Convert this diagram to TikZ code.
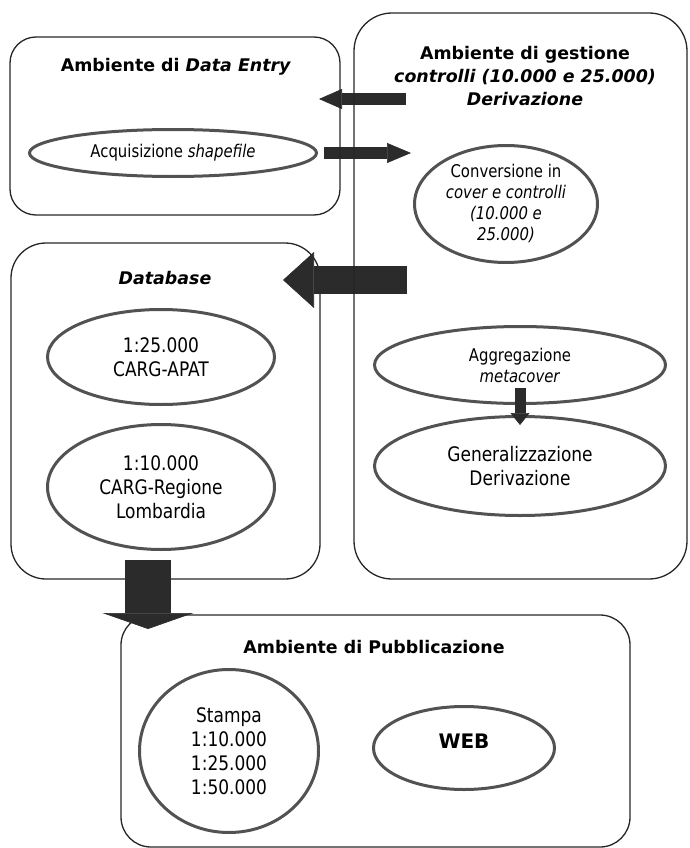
\documentclass[tikz,border=0pt]{standalone}
\usepackage{fontspec}
\setmainfont{DejaVu Sans}
\newfontfamily\narrowfont[FakeStretch=0.85]{DejaVu Sans}
\usetikzlibrary{shapes,arrows.meta}

\definecolor{arrowfill}{gray}{0.17}
\definecolor{ovalline}{gray}{0.32}

\tikzset{
  env/.style={draw=black!85, line width=1.3pt, rounded corners=#1, inner sep=0pt},
  env/.default=30pt,
  heading/.style={font=\fontsize{17.4}{23}\selectfont\bfseries, align=center},
  oval/.style={ellipse, draw=ovalline, line width=3pt, inner sep=0pt, align=center,
    font=\narrowfont\fontsize{20}{24}\selectfont},
  smalloval/.style={oval, font=\narrowfont\fontsize{17.5}{21}\selectfont},
  fat/.style n args={3}{draw=arrowfill, line width=#1,
    -{Triangle[width=#2, length=#3, line width=0.6pt, fill=arrowfill]}}
}

\begin{document}
\begin{tikzpicture}[x=1pt, y=-1pt]
    \useasboundingbox (0,0) rectangle (689,848);

    \node[heading] (entryT) at (176,67) {Ambiente di \textit{Data Entry}};
    \node[heading] (gestT) at (525,76) {Ambiente di gestione\\ \textit{controlli (10.000 e 25.000)}\\ \textit{Derivazione}};
    \node[heading] (dbT) at (165,278) {\textit{Database}};
    \node[heading] (pubT) at (374,647) {Ambiente di Pubblicazione};

    \node[smalloval, minimum width=287pt, minimum height=47pt] (acq) at (173,153) {Acquisizione \textit{shapefile}};
    \node[smalloval, minimum width=183pt, minimum height=117pt] (conv) at (506,204) {Conversione in\\ \textit{cover e controlli}\\ \textit{(10.000 e}\\ \textit{25.000)}};
    \node[smalloval, minimum width=291pt, minimum height=77pt] (agg) at (520,365) {Aggregazione\\ \textit{metacover}};
    \node[oval, minimum width=291pt, minimum height=99pt] (gen) at (520,466) {Generalizzazione\\ Derivazione};
    \node[oval, minimum width=227pt, minimum height=95pt] (apat) at (161,357) {1:25.000\\ CARG-APAT};
    \node[oval, minimum width=227pt, minimum height=125pt] (lomb) at (161,487) {1:10.000\\ CARG-Regione\\ Lombardia};
    \node[oval, minimum width=179pt, minimum height=163pt] (stampa) at (229,751) {Stampa\\ 1:10.000\\ 1:25.000\\ 1:50.000};
    \node[oval, minimum width=181pt, minimum height=83pt, font=\fontsize{20}{24}\selectfont\bfseries] (web) at (464,748) {\raisebox{14pt}{WEB}};

    \node[env=35pt, minimum width=309pt, minimum height=336pt] (db) at (165.5,411) {};
    \node[env=30pt, minimum width=509pt, minimum height=232pt] (pub) at (375.5,731) {};

    \coordinate (gestOut) at (407,280);
    \coordinate (dbIn) at (283,280);
    \coordinate (dbOut) at (148,560);
    \coordinate (pubIn) at (148,629);
    \coordinate (gestBack) at (406,99);
    \coordinate (entryIn) at (319,99);

    \draw[fat={28pt}{56pt}{31pt}] (gestOut) -- (dbIn);
    \draw[fat={46pt}{91pt}{16pt}] (dbOut) -- (pubIn);
    \draw[fat={12pt}{20pt}{23pt}] (gestBack) -- (entryIn);
    \draw[fat={12pt}{20pt}{24pt}] ([xshift=6pt]acq.east) -- ([xshift=-2pt]acq.east -| conv.west);
    \draw[fat={11pt}{19pt}{12pt}] ([yshift=17pt]agg.south) -- ([yshift=-10pt]gen.north);

    \node[env=26pt, minimum width=330pt, minimum height=178pt] (entry) at (175,126) {};
    \node[env=38pt, minimum width=333pt, minimum height=566pt] (gest) at (520.5,296) {};

\end{tikzpicture}
\end{document}
